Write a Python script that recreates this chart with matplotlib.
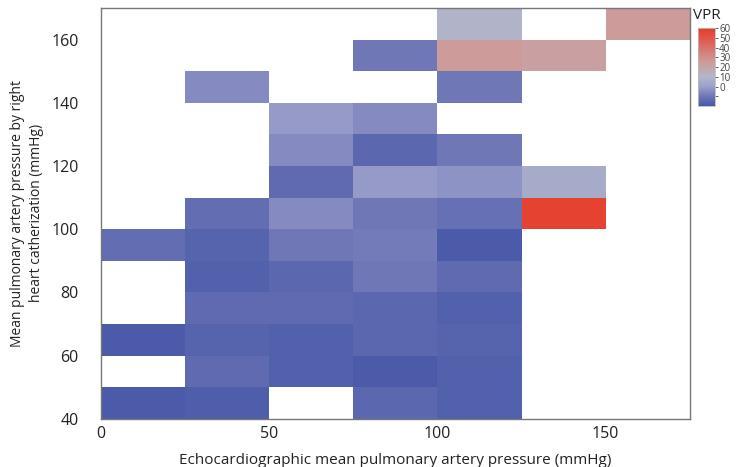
import numpy as np
import matplotlib

matplotlib.use("Agg")
import matplotlib.pyplot as plt
from matplotlib.colors import LinearSegmentedColormap

plt.rcParams["font.family"] = ["Open Sans", "DejaVu Sans"]

# bin edges (mmHg)
x_edges = [0, 25, 50, 75, 100, 125, 150, 175]
y_edges = [40, 50, 60, 70, 80, 90, 100, 110, 120, 130, 140, 150, 160, 170]

# VPR per cell, rows from 40-50 (bottom) to 160-170 (top); nan = empty
n = np.nan
row_40 = [-19, -18, n, -15, -17, n, n]
row_50 = [n, -14, -17, -19, -17, n, n]
row_60 = [-19, -16, -17, -15, -16, n, n]
row_70 = [n, -14, -14, -15, -17, n, n]
row_80 = [n, -17, -15, -10, -14, n, n]
row_90 = [-13, -16, -10, -9, -19, n, n]
row_100 = [n, -13, -5, -10, -12, 57, n]
row_110 = [n, n, -14, -1, -3, 5, n]
row_120 = [n, n, -5, -15, -10, n, n]
row_130 = [n, n, -1, -5, n, n, n]
row_140 = [n, -5, n, n, -10, n, n]
row_150 = [n, n, n, -10, 25, 23, n]
row_160 = [n, n, n, n, 9, n, 25]
vpr = np.array([row_40, row_50, row_60, row_70, row_80, row_90, row_100,
                row_110, row_120, row_130, row_140, row_150, row_160])
vpr = np.ma.masked_invalid(vpr)

vmin, vmax = -20, 60
nodes = [(-20, "#4758a8"), (-10, "#6f77b7"), (0, "#9a9fcb"),
         (10, "#b4b6c9"), (25, "#cd9b9b"), (60, "#e83a28")]
cmap = LinearSegmentedColormap.from_list(
    "vpr", [((v - vmin) / (vmax - vmin), c) for v, c in nodes])

fig = plt.figure(figsize=(7.49, 4.67), dpi=100)
ax = fig.add_axes([0.1345, 0.103, 0.7865, 0.880])
mesh = ax.pcolormesh(x_edges, y_edges, vpr, cmap=cmap, vmin=vmin, vmax=vmax,
                     edgecolors="none", antialiased=False)

ax.set_xlim(0, 175)
ax.set_ylim(40, 170)
ax.set_xticks([0, 50, 100, 150])
ax.set_yticks([40, 60, 80, 100, 120, 140, 160])
ax.tick_params(axis="x", length=0, labelsize=11.5, colors="#222222", pad=5)
ax.tick_params(axis="y", length=0, labelsize=11.5, colors="#222222", pad=16)
for s in ax.spines.values():
    s.set_color("#777777")
    s.set_linewidth(1.0)

ax.set_xlabel("Echocardiographic mean pulmonary artery pressure (mmHg)",
              fontsize=11, color="#222222", labelpad=8)
ax.set_ylabel("Mean pulmonary artery pressure by right\nheart catherization (mmHg)",
              fontsize=10, color="#222222", labelpad=5, linespacing=1.4)

cax = fig.add_axes([0.932, 0.773, 0.0227, 0.167])
cb = fig.colorbar(mesh, cax=cax)
cb.set_ticks([-10, 0, 10, 20, 30, 40, 50, 60])
cb.set_ticklabels(["", "0", "10", "20", "30", "40", "50", "60"])
cb.ax.tick_params(labelsize=7, length=2, width=0.6, pad=1, colors="#444444")
cb.outline.set_edgecolor("#bbbbbb")
cb.outline.set_linewidth(0.6)
fig.text(0.925, 0.966, "VPR", fontsize=11, ha="left", va="center", color="#222222")

fig.savefig("out.png", dpi=100)
